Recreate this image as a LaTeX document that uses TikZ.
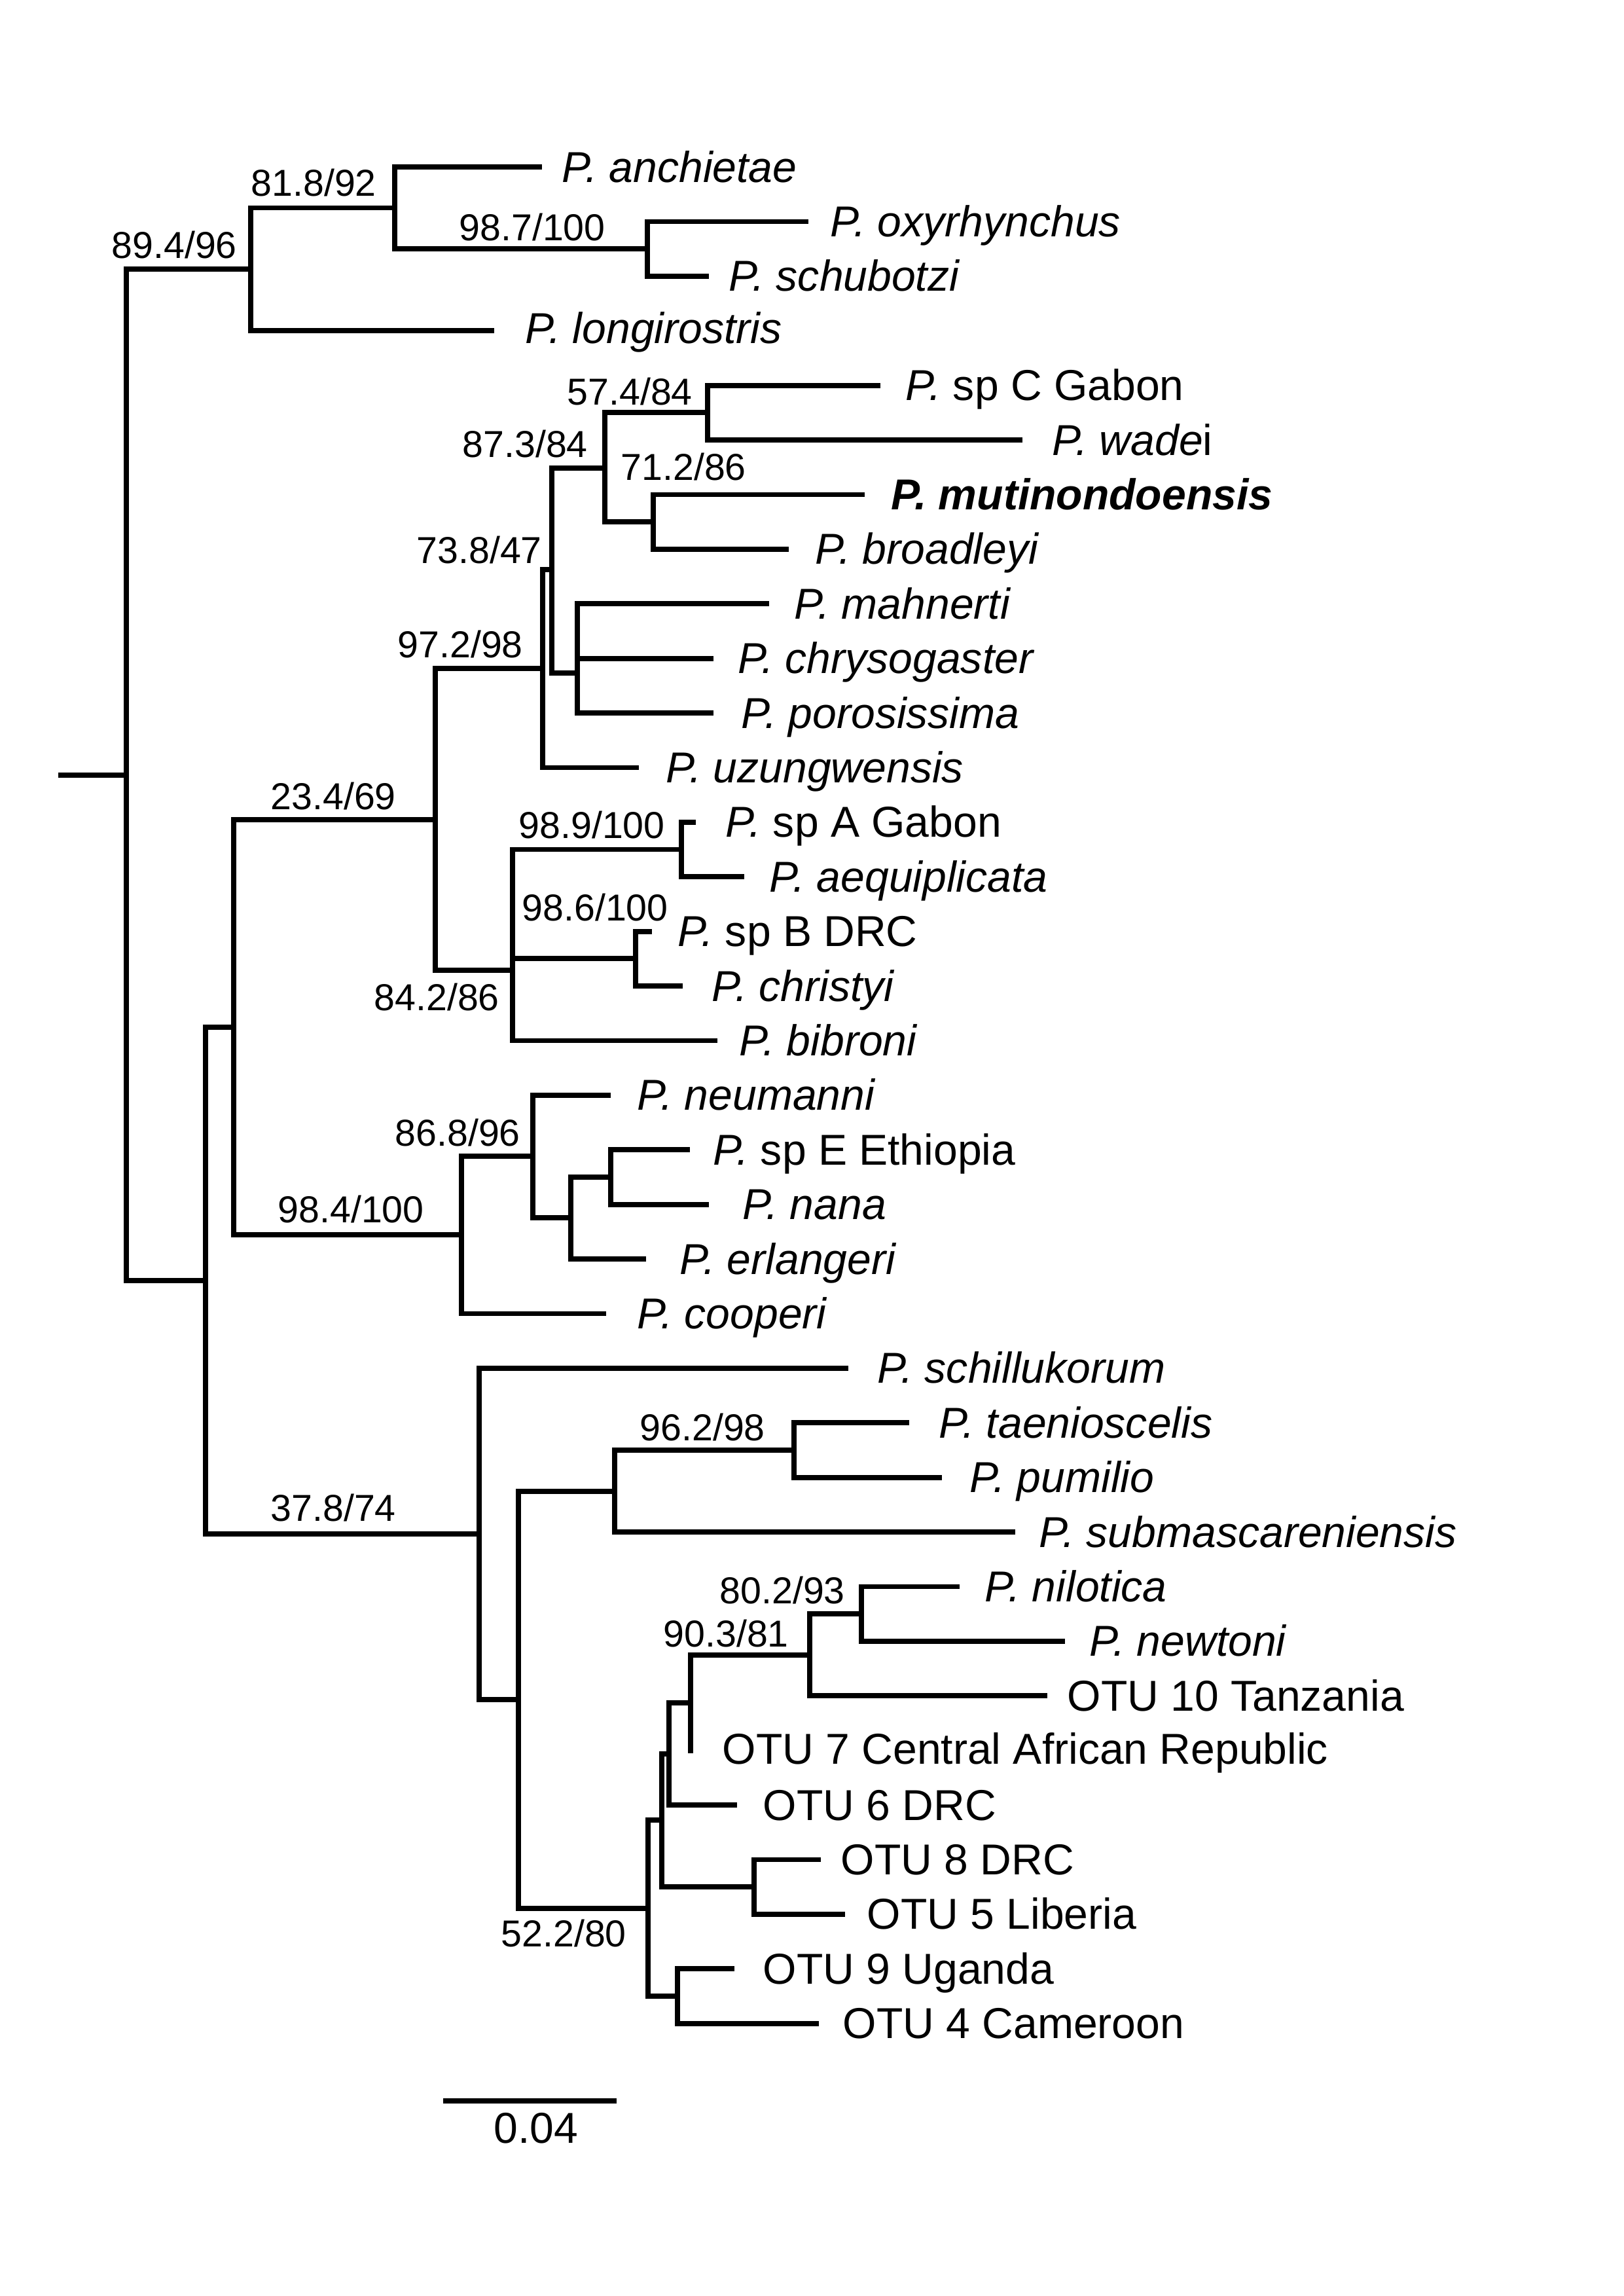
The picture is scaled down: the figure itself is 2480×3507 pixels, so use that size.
\documentclass[tikz,border=0pt]{standalone}
\usepackage{fontspec}
\setmainfont{Liberation Sans}
\newcommand\tkids[2]{\foreach \c in {#2}{\draw[hb] (#1 |- \c) -- (\c);}}
\newcommand\tvbar[3]{\draw[vb] (#1 |- #2) -- (#1 |- #3);}
\begin{document}
\begin{tikzpicture}[x=0.1mm,y=-0.1mm,
  hb/.style={line width=0.78mm, line cap=butt},
  vb/.style={line width=0.78mm, line cap=rect},
  tip/.style={anchor=base west, inner sep=0pt, font=\fontsize{18.8pt}{20pt}\selectfont},
  sup/.style={anchor=base west, inner sep=0pt, font=\fontsize{16.3pt}{18pt}\selectfont}]
\useasboundingbox (0,0) rectangle (2480,3507);
% ---------- leaves ----------
\coordinate (l1) at (828,255);
\coordinate (l2) at (1235,338.4);
\coordinate (l3) at (1083,421.8);
\coordinate (l4) at (755,505.2);
\coordinate (l5) at (1345,588.6);
\coordinate (l6) at (1562,672);
\coordinate (l7) at (1321,755.4);
\coordinate (l8) at (1205,838.8);
\coordinate (l9) at (1175,922.2);
\coordinate (l10) at (1090,1005.6);
\coordinate (l11) at (1090,1089);
\coordinate (l12) at (976,1172.4);
\coordinate (l13) at (1063,1255.8);
\coordinate (l14) at (1137,1339.2);
\coordinate (l15) at (996,1422.6);
\coordinate (l16) at (1043,1506);
\coordinate (l17) at (1096,1589.4);
\coordinate (l18) at (933,1672.8);
\coordinate (l19) at (1054,1756.2);
\coordinate (l20) at (1083,1839.6);
\coordinate (l21) at (987,1923);
\coordinate (l22) at (926,2006.4);
\coordinate (l23) at (1296,2089.8);
\coordinate (l24) at (1389,2173.2);
\coordinate (l25) at (1439,2256.6);
\coordinate (l26) at (1551,2340);
\coordinate (l27) at (1466,2423.4);
\coordinate (l28) at (1627,2506.8);
\coordinate (l29) at (1600,2590.2);
\coordinate (l30) at (1055,2673.6);
\coordinate (l31) at (1126,2757);
\coordinate (l32) at (1254,2840.4);
\coordinate (l33) at (1291,2923.8);
\coordinate (l34) at (1122,3007.2);
\coordinate (l35) at (1251,3090.6);
% ---------- internal nodes ----------
\coordinate (stub) at (89,1184);
\coordinate (root) at (193,1184);
\coordinate (n894) at (383,411);
\coordinate (n818) at (603,317.5);
\coordinate (n987) at (989,380);
\coordinate (p1) at (314,1956);
\coordinate (n357) at (357,1569);
\coordinate (n234) at (665,1252);
\coordinate (n972) at (829,1021);
\coordinate (n738) at (843,870);
\coordinate (n873) at (924,715);
\coordinate (n574) at (1081,630);
\coordinate (n712) at (998,797);
\coordinate (nmah) at (882,1028);
\coordinate (n842) at (783,1482);
\coordinate (n989) at (1041,1297.5);
\coordinate (n986) at (971,1464);
\coordinate (n984) at (705,1886);
\coordinate (n868) at (814,1766);
\coordinate (nerl) at (872,1860);
\coordinate (nspe) at (933,1798);
\coordinate (n378) at (732,2343);
\coordinate (nlow) at (792,2596);
\coordinate (nsub) at (939,2278);
\coordinate (n962) at (1213,2215);
\coordinate (n522) at (990,2915);
\coordinate (notu) at (1011,2780);
\coordinate (n6) at (1022,2679);
\coordinate (n7) at (1055,2601);
\coordinate (n903) at (1237,2528);
\coordinate (n802) at (1316,2465);
\coordinate (n85) at (1152,2882);
\coordinate (n94) at (1035,3049);
% ---------- branches ----------
\draw[hb] (stub) -- (root);
\tvbar{root}{n894}{p1}
\tkids{root}{n894,p1}
\tvbar{n894}{n818}{l4}
\tkids{n894}{n818,l4}
\tvbar{n818}{l1}{n987}
\tkids{n818}{l1,n987}
\tvbar{n987}{l2}{l3}
\tkids{n987}{l2,l3}
\tvbar{p1}{n357}{n378}
\tkids{p1}{n357,n378}
\tvbar{n357}{n234}{n984}
\tkids{n357}{n234,n984}
\tvbar{n234}{n972}{n842}
\tkids{n234}{n972,n842}
\tvbar{n972}{n738}{l12}
\tkids{n972}{n738,l12}
\tvbar{n738}{n873}{nmah}
\tkids{n738}{n873,nmah}
\tvbar{n873}{n574}{n712}
\tkids{n873}{n574,n712}
\tvbar{n574}{l5}{l6}
\tkids{n574}{l5,l6}
\tvbar{n712}{l7}{l8}
\tkids{n712}{l7,l8}
\tvbar{nmah}{l9}{l11}
\tkids{nmah}{l9,l10,l11}
\tvbar{n842}{n989}{l17}
\tkids{n842}{n989,n986,l17}
\tvbar{n989}{l13}{l14}
\tkids{n989}{l13,l14}
\tvbar{n986}{l15}{l16}
\tkids{n986}{l15,l16}
\tvbar{n984}{n868}{l22}
\tkids{n984}{n868,l22}
\tvbar{n868}{l18}{nerl}
\tkids{n868}{l18,nerl}
\tvbar{nerl}{nspe}{l21}
\tkids{nerl}{nspe,l21}
\tvbar{nspe}{l19}{l20}
\tkids{nspe}{l19,l20}
\tvbar{n378}{l23}{nlow}
\tkids{n378}{l23,nlow}
\tvbar{nlow}{nsub}{n522}
\tkids{nlow}{nsub,n522}
\tvbar{nsub}{n962}{l26}
\tkids{nsub}{n962,l26}
\tvbar{n962}{l24}{l25}
\tkids{n962}{l24,l25}
\tvbar{n522}{notu}{n94}
\tkids{n522}{notu,n94}
\tvbar{notu}{n6}{n85}
\tkids{notu}{n6,n85}
\tvbar{n6}{n7}{l31}
\tkids{n6}{n7,l31}
\tvbar{n7}{n903}{l30}
\tkids{n7}{n903}
\tvbar{n903}{n802}{l29}
\tkids{n903}{n802,l29}
\tvbar{n802}{l27}{l28}
\tkids{n802}{l27,l28}
\tvbar{n85}{l32}{l33}
\tkids{n85}{l32,l33}
\tvbar{n94}{l34}{l35}
\tkids{n94}{l34,l35}
% ---------- tip labels ----------
\node[tip] (t1) at (858,278) {\itshape P. anchietae};
\node[tip] (t2) at (1268,361.4) {\itshape P. oxyrhynchus};
\node[tip] (t3) at (1113,444.8) {\itshape P. schubotzi};
\node[tip] (t4) at (802,524) {\itshape P. longirostris};
\node[tip] (t5) at (1383,611.6) {\textit{P.} sp C Gabon};
\node[tip] (t6) at (1607,695) {\textit{P. wade}i};
\node[tip] (t7) at (1361,778.4) {\bfseries\itshape P. mutinondoensis};
\node[tip] (t8) at (1245,861.8) {\itshape P. broadleyi};
\node[tip] (t9) at (1213,945.2) {\itshape P. mahnerti};
\node[tip] (t10) at (1127,1028.6) {\itshape P. chrysogaster};
\node[tip] (t11) at (1132,1112) {\itshape P. porosissima};
\node[tip] (t12) at (1017,1195.4) {\itshape P. uzungwensis};
\node[tip] (t13) at (1108,1278.8) {\textit{P.} sp A Gabon};
\node[tip] (t14) at (1175,1362.2) {\itshape P. aequiplicata};
\node[tip] (t15) at (1035,1445.6) {\textit{P.} sp B DRC};
\node[tip] (t16) at (1087,1529) {\itshape P. christyi};
\node[tip] (t17) at (1129,1612.4) {\itshape P. bibroni};
\node[tip] (t18) at (973,1695.8) {\itshape P. neumanni};
\node[tip] (t19) at (1089,1779.2) {\textit{P.} sp E Ethiopia};
\node[tip] (t20) at (1134,1862.6) {\itshape P. nana};
\node[tip] (t21) at (1038,1946) {\itshape P. erlangeri};
\node[tip] (t22) at (973,2029.4) {\itshape P. cooperi};
\node[tip] (t23) at (1340,2112.8) {\itshape P. schillukorum};
\node[tip] (t24) at (1434,2196.2) {\itshape P. taenioscelis};
\node[tip] (t25) at (1481,2279.6) {\itshape P. pumilio};
\node[tip] (t26) at (1587,2363) {\itshape P. submascareniensis};
\node[tip] (t27) at (1504,2446.4) {\itshape P. nilotica};
\node[tip] (t28) at (1664,2529.8) {\itshape P. newtoni};
\node[tip] (t29) at (1630,2613.2) {OTU 10 Tanzania};
\node[tip] (t30) at (1103,2694) {OTU 7 Central African Republic};
\node[tip] (t31) at (1165,2780) {OTU 6 DRC};
\node[tip] (t32) at (1284,2863.4) {OTU 8 DRC};
\node[tip] (t33) at (1324,2946.8) {OTU 5 Liberia};
\node[tip] (t34) at (1165,3030.2) {OTU 9 Uganda};
\node[tip] (t35) at (1287,3113.6) {OTU 4 Cameroon};
% ---------- support values ----------
\node[sup] (s894) at (170,394) {89.4/96};
\node[sup] (s818) at (383,300) {81.8/92};
\node[sup] (s987) at (701,367) {98.7/100};
\node[sup] (s574) at (866,618) {57.4/84};
\node[sup] (s873) at (706,698) {87.3/84};
\node[sup] (s712) at (948,733) {71.2/86};
\node[sup] (s738) at (636,860) {73.8/47};
\node[sup] (s972) at (607,1004) {97.2/98};
\node[sup] (s234) at (413,1236) {23.4/69};
\node[sup] (s989) at (792,1280) {98.9/100};
\node[sup] (s986) at (797,1406) {98.6/100};
\node[sup] (s842) at (571,1543) {84.2/86};
\node[sup] (s868) at (603,1750) {86.8/96};
\node[sup] (s984) at (424,1867) {98.4/100};
\node[sup] (s378) at (413,2323) {37.8/74};
\node[sup] (s962) at (977,2200) {96.2/98};
\node[sup] (s802) at (1099,2449) {80.2/93};
\node[sup] (s903) at (1013,2515) {90.3/81};
\node[sup] (s522) at (765,2973) {52.2/80};
% ---------- scale bar ----------
\coordinate (sb1) at (677,3209);
\coordinate (sb2) at (942,3209);
\draw[hb] (sb1) -- (sb2);
\node[tip] (sbl) at (754,3273) {0.04};
\end{tikzpicture}
\end{document}
